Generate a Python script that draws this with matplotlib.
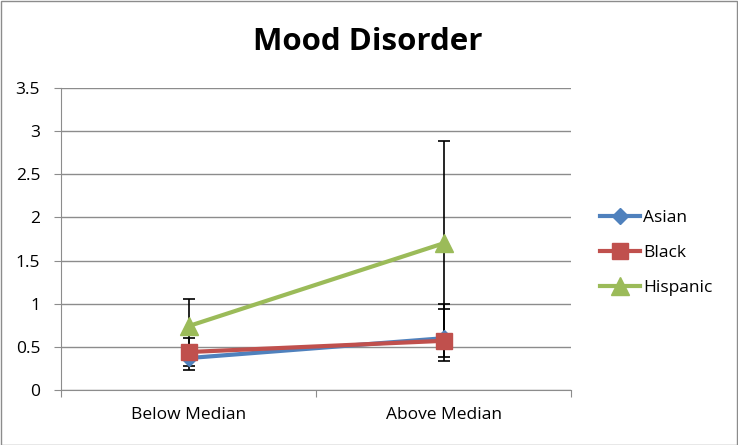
import matplotlib
matplotlib.use("Agg")
import matplotlib.pyplot as plt
from matplotlib.patches import Rectangle

# chart data
categories = ["Below Median", "Above Median"]
series_names = ["Asian", "Black", "Hispanic"]
asian = [0.37, 0.60]
black = [0.44, 0.57]
hispanic = [0.74, 1.70]
asian_err_lo = [0.14, 0.26]
asian_err_hi = [0.14, 0.40]
black_err_lo = [0.16, 0.19]
black_err_hi = [0.16, 0.37]
hispanic_err_lo = [0.31, 1.18]
hispanic_err_hi = [0.31, 1.18]
yticks = [0, 0.5, 1, 1.5, 2, 2.5, 3, 3.5]
ytick_labels = ["0", "0.5", "1", "1.5", "2", "2.5", "3", "3.5"]

colors = ["#4F81BD", "#C0504D", "#9BBB59"]
markers = ["D", "s", "^"]
msizes = [8, 12, 13]

plt.rcParams['font.family'] = ['Open Sans', 'DejaVu Sans']

fig = plt.figure(figsize=(7.38, 4.45), dpi=100)
ax = fig.add_axes([61 / 738, 1 - 390 / 445, (571 - 61) / 738, (390 - 88) / 445])

x = [0.5, 1.5]
values = [asian, black, hispanic]
errs = [(asian_err_lo, asian_err_hi), (black_err_lo, black_err_hi),
        (hispanic_err_lo, hispanic_err_hi)]

for i, name in enumerate(series_names):
    ax.errorbar(x, values[i], yerr=[errs[i][0], errs[i][1]], fmt="none",
                ecolor="black", elinewidth=1.2, capsize=4, capthick=1.2, zorder=2)
for i, name in enumerate(series_names):
    ax.plot(x, values[i], color=colors[i], lw=3, marker=markers[i],
            markersize=msizes[i], label=name, zorder=3 + i)

ax.set_xlim(0, 2)
ax.set_ylim(0, 3.5)
ax.set_yticks(yticks)
ax.set_yticklabels(ytick_labels, fontsize=12.5)
ax.yaxis.grid(True, color="#8c8c8c", lw=1)
ax.set_axisbelow(True)

ax.set_xticks([0, 1, 2])
ax.set_xticklabels([])
ax.set_xticks(x, minor=True)
ax.set_xticklabels(categories, minor=True, fontsize=12.5)
ax.tick_params(axis="x", which="minor", length=0, pad=12)
ax.tick_params(axis="x", which="major", length=5, color="#8c8c8c", direction="out")
ax.tick_params(axis="y", length=5, color="#8c8c8c", direction="out", pad=10)

for side in ["top", "right"]:
    ax.spines[side].set_visible(False)
for side in ["left", "bottom"]:
    ax.spines[side].set_color("#8c8c8c")

fig.text(368 / 738, 1 - 42 / 445, "Mood Disorder", ha="center", va="center",
         fontsize=22.5, fontweight="bold")

fig.legend(loc="center left", bbox_to_anchor=(584 / 738, 1 - 253 / 445),
           frameon=False, fontsize=12.5, handlelength=2.3, labelspacing=1.1,
           handletextpad=0.2)

fig.patches.append(Rectangle((0.001, 0.001), 0.997, 0.996, transform=fig.transFigure,
                             fill=False, edgecolor="#8c8c8c", lw=1))

fig.savefig("out.png", dpi=100)
